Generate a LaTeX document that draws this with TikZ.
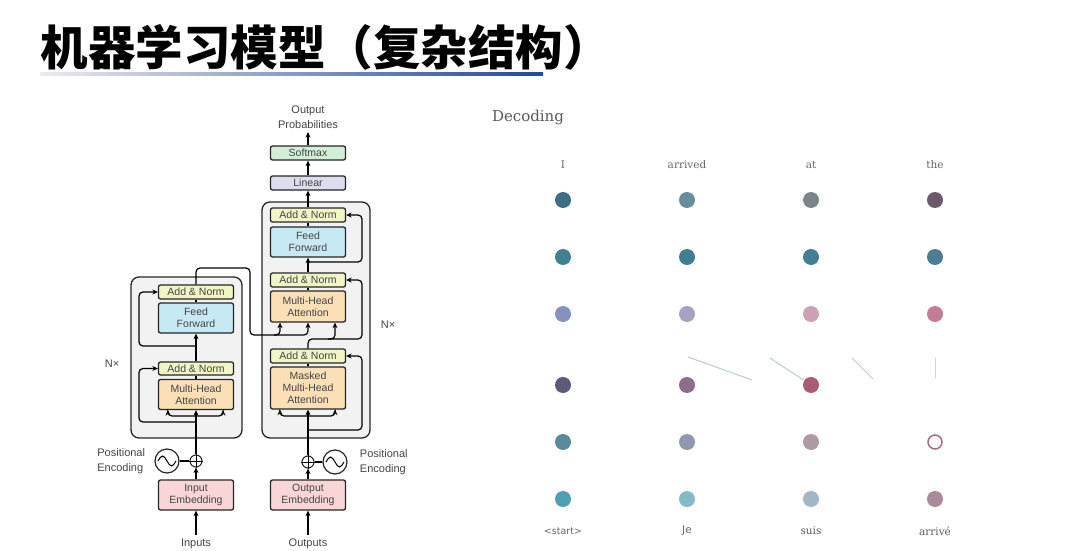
\documentclass[tikz,border=0pt]{standalone}
\usepackage{fontspec}
\newfontfamily\cjk{Noto Sans CJK SC}
\newfontfamily\trsans{Liberation Sans}
\newfontfamily\slab{DejaVu Serif}
\newfontfamily\dsans{DejaVu Sans}
\usepackage{xcolor}
\usepackage{tikz}
\usetikzlibrary{arrows.meta, positioning, calc}

\definecolor{anfill}{HTML}{F1F4C4}
\definecolor{fffill}{HTML}{C6E9F4}
\definecolor{mhfill}{HTML}{FBE0B7}
\definecolor{smfill}{HTML}{D3EED7}
\definecolor{lnfill}{HTML}{DCDEEE}
\definecolor{embfill}{HTML}{F8D6D6}
\definecolor{blkfill}{HTML}{F2F2F2}
\definecolor{txtgray}{HTML}{444444}
\definecolor{ruleblue}{HTML}{27469B}
\definecolor{rulegray}{HTML}{ECECEF}
\definecolor{wordgray}{HTML}{666666}
\definecolor{faintblue}{HTML}{B9CBD6}
\definecolor{faintpink}{HTML}{E3CDD4}
% decoding dots, row by row
\definecolor{d11}{HTML}{3F6D82}\definecolor{d12}{HTML}{6A8B9A}\definecolor{d13}{HTML}{7B8488}\definecolor{d14}{HTML}{6C5A6C}
\definecolor{d21}{HTML}{42808F}\definecolor{d22}{HTML}{3F7F8F}\definecolor{d23}{HTML}{437E93}\definecolor{d24}{HTML}{4E7C93}
\definecolor{d31}{HTML}{8791BF}\definecolor{d32}{HTML}{A6A2C2}\definecolor{d33}{HTML}{CBA2B5}\definecolor{d34}{HTML}{C27C95}
\definecolor{d41}{HTML}{5B5A78}\definecolor{d42}{HTML}{8D6C8C}\definecolor{d43}{HTML}{A95B78}
\definecolor{d51}{HTML}{5A8A9A}\definecolor{d52}{HTML}{9099AB}\definecolor{d53}{HTML}{AE9AA5}\definecolor{d54}{HTML}{A86A82}
\definecolor{d61}{HTML}{4E9FB4}\definecolor{d62}{HTML}{87BAC7}\definecolor{d63}{HTML}{A2B6C6}\definecolor{d64}{HTML}{A88A9B}

\begin{document}
\begin{tikzpicture}[x=1pt, y=-1pt, >={Stealth[length=5.5pt, width=5pt]}, line width=1.2pt,
  every node/.style={font=\trsans\fontsize{10.5}{12}\selectfont, text=txtgray},
  box/.style={draw=black!85, line width=1.3pt, rounded corners=2pt, minimum width=75pt, inner sep=0pt, align=center},
  addnorm/.style={box, fill=anfill, minimum height=14pt},
  ffbox/.style={box, fill=fffill, minimum height=30pt},
  mhbox/.style={box, fill=mhfill, minimum height=31pt},
  embbox/.style={box, fill=embfill, minimum height=30pt},
  layer/.style={draw=black!85, fill=blkfill, line width=1.3pt, rounded corners=8pt, inner sep=0pt},
  plus/.style={circle, draw=black!85, line width=1.1pt, minimum size=12pt, inner sep=0pt},
  wave/.style={circle, draw=black!85, line width=1.2pt, minimum size=24pt, inner sep=0pt},
  lbl/.style={font=\trsans\fontsize{11}{14.5}\selectfont},
  dot/.style={circle, minimum size=16pt, inner sep=0pt},
  word/.style={font=\slab\fontsize{10.5}{12}\selectfont, text=wordgray}]
\useasboundingbox (0,0) rectangle (1080,551);

% title
\node[anchor=west, inner sep=0pt, text=black, font=\cjk\bfseries\fontsize{47.5}{50}\selectfont] (title) at (40,47) {机器学习模型（复杂结构）};
\shade[left color=rulegray, right color=ruleblue] (40,72.5) rectangle (543,75.5);

% ---------- transformer ----------
\node[layer, minimum width=111pt, minimum height=161pt] (encblk) at (186.5,357.5) {};
\node[layer, minimum width=108pt, minimum height=236pt] (decblk) at (316,320) {};

% encoder
\node[addnorm] (eAN2) at (196,292) {Add \& Norm};
\node[ffbox] (eFF) at (196,318) {Feed\\Forward};
\node[addnorm, minimum height=13pt] (eAN1) at (196,368.5) {Add \& Norm};
\node[mhbox, minimum height=30pt] (eMHA) at (196,394.5) {Multi-Head\\Attention};
\node[plus] (eplus) at (196,461) {};
\node[wave] (epe) at (167,461) {};
\node[embbox] (eEmb) at (196,495) {Input\\Embedding};
\node[lbl] (inputs) at (196,544) {Inputs};
\node[lbl, anchor=east, align=left] (epelbl) at (149,461) {Positional\\Encoding};
\node[lbl] (eN) at (112,364) {N×};

% decoder
\node[box, fill=smfill, minimum height=14pt] (softmax) at (308,153) {Softmax};
\node[box, fill=lnfill, minimum height=14pt] (linear) at (308,183) {Linear};
\node[addnorm] (dAN3) at (308,215) {Add \& Norm};
\node[ffbox] (dFF) at (308,242) {Feed\\Forward};
\node[addnorm] (dAN2) at (308,280) {Add \& Norm};
\node[mhbox] (dMHA) at (308,306.5) {Multi-Head\\Attention};
\node[addnorm] (dAN1) at (308,356) {Add \& Norm};
\node[mhbox, minimum height=42pt] (dMMHA) at (308,388) {Masked\\Multi-Head\\Attention};
\node[plus] (dplus) at (308,462) {};
\node[wave] (dpe) at (335,462) {};
\node[embbox] (dEmb) at (308,495) {Output\\Embedding};
\node[lbl] (outputs) at (308,544) {Outputs};
\node[lbl, anchor=west, align=left] (dpelbl) at (356,462) {Positional\\Encoding};
\node[lbl] (dN) at (388,325) {N×};
\node[lbl, align=center] (probs) at (308,117) {Output\\Probabilities};

% plus signs and waves
\draw[line width=1pt] (eplus.north) -- (eplus.south) (eplus.west) -- (eplus.east);
\draw[line width=1pt] (dplus.north) -- (dplus.south) (dplus.west) -- (dplus.east);
\draw[line width=1pt] ([xshift=-9pt]epe.center) sin ++(4.5,-5) cos ++(4.5,5) sin ++(4.5,5) cos ++(4.5,-5);
\draw[line width=1pt] ([xshift=-9pt]dpe.center) sin ++(4.5,-5) cos ++(4.5,5) sin ++(4.5,5) cos ++(4.5,-5);

% bend points
\coordinate (eSplit) at (196,416);
\coordinate (eR1) at (196,422);
\coordinate (eL1) at (139,422);
\coordinate (eR2) at (196,346);
\coordinate (eL2) at (139,346);
\coordinate (encRight) at (250,268);
\coordinate (encDown) at (250,335);
\coordinate (kIn) at ([xshift=-28pt]dMHA.south);
\coordinate (qIn) at ([xshift=27pt]dMHA.south);
\coordinate (dSplit) at (308,416);
\coordinate (dR1a) at (308,430);
\coordinate (dR1b) at (362,430);
\coordinate (qBend) at (308,339);
\coordinate (dR2) at (362,339);
\coordinate (dR3a) at (308,262);
\coordinate (dR3b) at (362,262);

% encoder flow
\draw[->] (inputs) -- (eEmb);
\draw[->] (eEmb) -- (eplus);
\draw (epe) -- (eplus);
\draw[->] (eplus) -- (eMHA);
\draw[->, rounded corners=4pt] (eSplit) -| ([xshift=-28pt]eMHA.south);
\draw[->, rounded corners=4pt] (eSplit) -| ([xshift=27pt]eMHA.south);
\draw[->, rounded corners=4pt] (eR1) -- (eL1) |- (eAN1.west);
\draw (eMHA) -- (eAN1);
\draw[->] (eAN1) -- (eFF);
\draw[->, rounded corners=4pt] (eR2) -- (eL2) |- (eAN2.west);
\draw (eFF) -- (eAN2);
\draw[->, rounded corners=4pt] (eAN2.north) |- (encRight) -- (encDown) -| (kIn);
\draw[->, rounded corners=4pt] ([xshift=-6pt]kIn |- encDown) -| (dMHA.south);

% decoder flow
\draw[->] (outputs) -- (dEmb);
\draw[->] (dEmb) -- (dplus);
\draw (dpe) -- (dplus);
\draw[->] (dplus) -- (dMMHA);
\draw[->, rounded corners=4pt] (dSplit) -| ([xshift=-28pt]dMMHA.south);
\draw[->, rounded corners=4pt] (dSplit) -| ([xshift=27pt]dMMHA.south);
\draw[->, rounded corners=4pt] (dR1a) -- (dR1b) |- (dAN1.east);
\draw (dMMHA) -- (dAN1);
\draw[->, rounded corners=4pt] (dAN1.north) -- (qBend) -| (qIn);
\draw[->, rounded corners=4pt] ([xshift=20pt]qBend) -- (dR2) |- (dAN2.east);
\draw (dMHA) -- (dAN2);
\draw[->] (dAN2) -- (dFF);
\draw[->, rounded corners=4pt] (dR3a) -- (dR3b) |- (dAN3.east);
\draw (dFF) -- (dAN3);
\draw[->] (dAN3) -- (linear);
\draw[->] (linear) -- (softmax);
\draw[->] (softmax) -- (probs);

% ---------- decoding ----------
\node[font=\slab\fontsize{15}{17}\selectfont, text=black!65] (hdr) at (528,117) {Decoding};
\node[word] (wI) at (563,165) {I};
\node[word] (wArrived) at (687,165) {arrived};
\node[word] (wAt) at (811,165) {at};
\node[word] (wThe) at (935,165) {the};
\node[word, font=\dsans\fontsize{9.5}{11}\selectfont] (wStart) at (563,531) {<start>};
\node[word, font=\dsans\fontsize{10.5}{11}\selectfont] (wJe) at (687,531) {Je};
\node[word, text=black!65] (wSuis) at (811,531) {suis};
\node[word, text=black!65] (wArrive) at (935,531) {arrivé};

\node[dot, fill=d11] (dot11) at (563,200) {};
\node[dot, fill=d12] (dot12) at (687,200) {};
\node[dot, fill=d13] (dot13) at (811,200) {};
\node[dot, fill=d14] (dot14) at (935,200) {};
\node[dot, fill=d21] (dot21) at (563,257) {};
\node[dot, fill=d22] (dot22) at (687,257) {};
\node[dot, fill=d23] (dot23) at (811,257) {};
\node[dot, fill=d24] (dot24) at (935,257) {};
\node[dot, fill=d31] (dot31) at (563,314) {};
\node[dot, fill=d32] (dot32) at (687,314) {};
\node[dot, fill=d33] (dot33) at (811,314) {};
\node[dot, fill=d34] (dot34) at (935,314) {};
\node[dot, fill=d41] (dot41) at (563,385) {};
\node[dot, fill=d42] (dot42) at (687,385) {};
\node[dot, fill=d43] (dot43) at (811,385) {};
\node[dot, fill=d51] (dot51) at (563,442) {};
\node[dot, fill=d52] (dot52) at (687,442) {};
\node[dot, fill=d53] (dot53) at (811,442) {};
\node[dot, draw=d54, fill=white, line width=1.5pt, minimum size=14pt] (dot54) at (935,442) {};
\node[dot, fill=d61] (dot61) at (563,499) {};
\node[dot, fill=d62] (dot62) at (687,499) {};
\node[dot, fill=d63] (dot63) at (811,499) {};
\node[dot, fill=d64] (dot64) at (935,499) {};

% faint attention strokes
\coordinate (f1a) at (688,357);
\coordinate (f1b) at (752,380);
\coordinate (f2a) at (770,358);
\coordinate (f3a) at (852,358);
\coordinate (f3b) at (873,379);
\coordinate (f4a) at (935,358);
\coordinate (f4b) at (935,378);
\draw[faintblue, line width=1pt] (f1a) -- (f1b);
\draw[faintblue, line width=1pt] (f2a) -- (dot43);
\draw[faintblue, line width=1pt] (f3a) -- (f3b);
\draw[faintpink, line width=1pt] (f4a) -- (f4b);
\end{tikzpicture}
\end{document}
